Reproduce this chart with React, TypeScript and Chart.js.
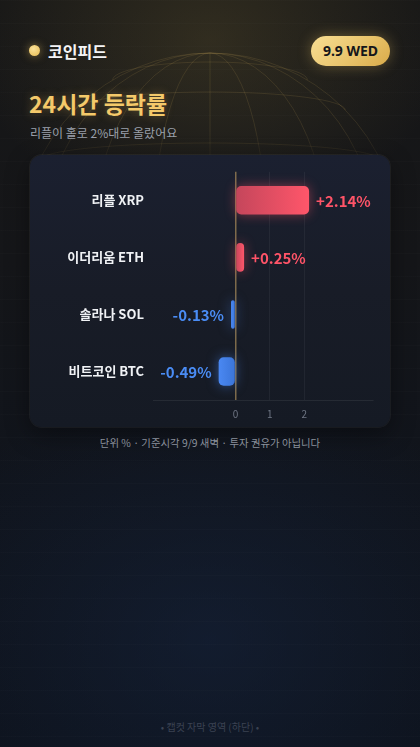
import React, { useEffect, useRef } from "react";
import { Chart, registerables } from "chart.js";

Chart.register(...registerables);

const FONT = '"Noto Sans CJK KR", "Noto Sans", sans-serif';

const coins = ["리플 XRP", "이더리움 ETH", "솔라나 SOL", "비트코인 BTC"];
const changes = [2.14, 0.25, -0.13, -0.49];
const xTicks = [0, 1, 2];
const xMin = -2.4;
const xMax = 4;

const RED_BASE = "#c4465b";
const RED_END = "#ff566a";
const BLUE_BASE = "#3a74d8";
const BLUE_END = "#4a88f2";

function fmt(v: number) {
  return (v >= 0 ? "+" : "") + v.toFixed(2) + "%";
}

function barGradient(ctx: any, base: string, end: string) {
  const chart = ctx.chart;
  const xs = chart.scales && chart.scales.x;
  const v = changes[ctx.dataIndex];
  if (!xs || !chart.chartArea || v == null) return end;
  const x0 = xs.getPixelForValue(0);
  const x1 = xs.getPixelForValue(v);
  if (!isFinite(x0) || !isFinite(x1) || x0 === x1) return end;
  const g = chart.ctx.createLinearGradient(x0, 0, x1, 0);
  g.addColorStop(0, base);
  g.addColorStop(1, end);
  return g;
}

const glowPlugin = {
  id: "glow",
  beforeDatasetDraw(chart: any, args: any) {
    const ctx = chart.ctx;
    ctx.save();
    ctx.shadowColor = args.index === 0 ? "rgba(255,84,104,0.45)" : "rgba(74,138,244,0.5)";
    ctx.shadowBlur = 12;
  },
  afterDatasetDraw(chart: any) {
    chart.ctx.restore();
  },
};

const valueLabels = {
  id: "valueLabels",
  afterDatasetsDraw(chart: any) {
    const ctx = chart.ctx;
    ctx.save();
    ctx.font = `700 15px ${FONT}`;
    ctx.textBaseline = "middle";
    chart.data.datasets.forEach((ds: any, di: number) => {
      const meta = chart.getDatasetMeta(di);
      meta.data.forEach((el: any, i: number) => {
        const v = ds.data[i];
        if (v == null) return;
        if (v >= 0) {
          ctx.fillStyle = "#ff5468";
          ctx.textAlign = "left";
          ctx.fillText(fmt(v), el.x + 7, el.y + 1);
        } else {
          ctx.fillStyle = "#4a8cf4";
          ctx.textAlign = "right";
          ctx.fillText(fmt(v), el.x - 7, el.y + 1);
        }
      });
    });
    ctx.restore();
  },
};

function BarChart() {
  const ref = useRef<HTMLCanvasElement | null>(null);
  useEffect(() => {
    if (!ref.current) return;
    const up = changes.map((v) => (v >= 0 ? v : null));
    const down = changes.map((v) => (v < 0 ? v : null));
    const chart = new Chart(ref.current, {
      type: "bar",
      data: {
        labels: coins,
        datasets: [
          {
            data: up as any,
            backgroundColor: (c: any) => barGradient(c, RED_BASE, RED_END),
            borderRadius: 5,
            borderSkipped: false,
            categoryPercentage: 1,
            barPercentage: 0.5,
            grouped: false,
          },
          {
            data: down as any,
            backgroundColor: (c: any) => barGradient(c, BLUE_BASE, BLUE_END),
            borderRadius: 5,
            borderSkipped: false,
            categoryPercentage: 1,
            barPercentage: 0.5,
            grouped: false,
          },
        ],
      },
      options: {
        indexAxis: "y",
        responsive: false,
        animation: false,
        events: [],
        layout: { padding: { top: 15, right: 17, bottom: 0, left: 0 } },
        plugins: { legend: { display: false }, tooltip: { enabled: false } },
        scales: {
          x: {
            min: xMin,
            max: xMax,
            afterBuildTicks: (s: any) => {
              s.ticks = xTicks.map((v) => ({ value: v }));
            },
            afterFit: (s: any) => {
              s.height = 27;
            },
            grid: {
              drawTicks: false,
              color: (c: any) => (c.tick && c.tick.value === 0 ? "rgba(170,140,90,0.7)" : "rgba(255,255,255,0.05)"),
              lineWidth: (c: any) => (c.tick && c.tick.value === 0 ? 1.5 : 1),
            },
            border: { display: true, color: "rgba(255,255,255,0.07)" },
            ticks: { color: "#6f7684", font: { size: 10, family: FONT }, padding: 8 },
          },
          y: {
            afterFit: (s: any) => {
              s.width = 123;
            },
            grid: { display: false, drawTicks: false },
            border: { display: false },
            ticks: { color: "#f0f2f5", font: { size: 13, weight: "bold", family: FONT }, padding: 9 },
          },
        },
      } as any,
      plugins: [glowPlugin, valueLabels],
    });
    return () => chart.destroy();
  }, []);
  return <canvas ref={ref} width={360} height={272} style={{ position: "absolute", left: 0, top: 0 }} />;
}

function Globe() {
  const cx = 210, cy = 242, R = 189;
  const stroke = "rgba(205,170,95,0.14)";
  const meridians = [0.3, 0.62, 0.88];
  const latTops = [
    { top: 62, end: 80 },
    { top: 92, end: 110 },
    { top: 143, end: 160 },
  ];
  return (
    <svg width={420} height={747} style={{ position: "absolute", left: 0, top: 0 }}>
      <defs>
        <linearGradient id="gfade" x1="0" y1="0" x2="0" y2="747" gradientUnits="userSpaceOnUse">
          <stop offset="0" stopColor="#fff" stopOpacity="1" />
          <stop offset={String(130 / 747)} stopColor="#fff" stopOpacity="1" />
          <stop offset={String(175 / 747)} stopColor="#fff" stopOpacity="0" />
          <stop offset="1" stopColor="#fff" stopOpacity="0" />
        </linearGradient>
        <mask id="gmask" maskUnits="userSpaceOnUse" x="0" y="0" width="420" height="747">
          <rect x="0" y="0" width="420" height="747" fill="url(#gfade)" />
        </mask>
      </defs>
      <g mask="url(#gmask)">
        <circle cx={cx} cy={cy} r={R} fill="none" stroke={stroke} strokeWidth={1} />
        <line x1={cx} y1={cy - R} x2={cx} y2={cy + R} stroke={stroke} />
        {meridians.map((k, i) => (
          <ellipse key={"m" + i} cx={cx} cy={cy} rx={R * k} ry={R} fill="none" stroke={stroke} />
        ))}
        {latTops.map((l, i) => {
          const dy = cy - l.end;
          const hw = Math.sqrt(R * R - dy * dy);
          const ry = l.end - l.top;
          return (
            <path
              key={"l" + i}
              d={`M ${cx - hw} ${l.end} A ${hw} ${ry} 0 0 1 ${cx + hw} ${l.end}`}
              fill="none"
              stroke={stroke}
            />
          );
        })}
      </g>
    </svg>
  );
}

export default function App() {
  return (
    <div
      style={{
        position: "absolute",
        left: 0,
        top: 0,
        width: 420,
        height: 747,
        overflow: "hidden",
        fontFamily: FONT,
        background:
          "radial-gradient(ellipse 240px 180px at 210px 40px, rgba(110,95,50,0.30), rgba(110,95,50,0) 100%)," +
          "radial-gradient(ellipse 320px 260px at 210px 640px, rgba(22,36,62,0.55), rgba(22,36,62,0) 100%)," +
          "linear-gradient(180deg, #171717 0%, #151619 35%, #10141c 65%, #0d121b 100%)",
      }}
    >
      <div
        style={{
          position: "absolute",
          inset: 0,
          background: "repeating-linear-gradient(180deg, rgba(255,255,255,0.012) 0px, rgba(255,255,255,0.012) 1px, transparent 1px, transparent 23px)",
        }}
      />
      <Globe />
      <div
        style={{
          position: "absolute",
          left: 29,
          top: 45,
          width: 11,
          height: 11,
          borderRadius: "50%",
          background: "radial-gradient(circle at 40% 35%, #fbe39a, #e6b94f)",
          boxShadow: "0 0 8px rgba(240,200,100,0.5)",
        }}
      />
      <div style={{ position: "absolute", left: 48, top: 39, fontSize: 16, fontWeight: 700, color: "#f4f4f6", lineHeight: "24px" }}>
        코인피드
      </div>
      <div
        style={{
          position: "absolute",
          left: 311,
          top: 36,
          width: 79,
          height: 30,
          borderRadius: 15,
          background: "linear-gradient(135deg, #f8de93 0%, #e9c46c 55%, #d9ab4a 100%)",
          boxShadow: "0 0 14px rgba(235,195,100,0.35)",
          color: "#15161a",
          fontSize: 14,
          fontWeight: 700,
          lineHeight: "30px",
          textAlign: "center",
          fontFamily: '"Noto Sans", sans-serif',
        }}
      >
        9.9 WED
      </div>
      <div
        style={{
          position: "absolute",
          left: 29,
          top: 87,
          fontSize: 23,
          fontWeight: 700,
          color: "#f4c96a",
          lineHeight: "32px",
          textShadow: "0 0 10px rgba(240,190,90,0.35)",
        }}
      >
        24시간 등락률
      </div>
      <div style={{ position: "absolute", left: 30, top: 124, fontSize: 12, color: "#9aa0ab", lineHeight: "18px" }}>
        리플이 홀로 2%대로 올랐어요
      </div>
      <div
        style={{
          position: "absolute",
          left: 30,
          top: 155,
          width: 360,
          height: 272,
          borderRadius: 12,
          background: "linear-gradient(180deg, #1b2030 0%, #181c27 50%, #151a24 100%)",
          boxShadow: "0 0 0 1px rgba(255,255,255,0.05), 0 8px 24px rgba(0,0,0,0.4)",
          overflow: "hidden",
        }}
      >
        <BarChart />
      </div>
      <div style={{ position: "absolute", left: 0, width: 420, top: 435, textAlign: "center", fontSize: 10.4, color: "#8a909b", lineHeight: "16px" }}>
        단위 % · 기준시각 9/9 새벽 · 투자 권유가 아닙니다
      </div>
      <div style={{ position: "absolute", left: 0, width: 420, top: 719, textAlign: "center", fontSize: 10, color: "#3b4252", lineHeight: "16px" }}>
        • 캡컷 자막 영역 (하단) •
      </div>
    </div>
  );
}
